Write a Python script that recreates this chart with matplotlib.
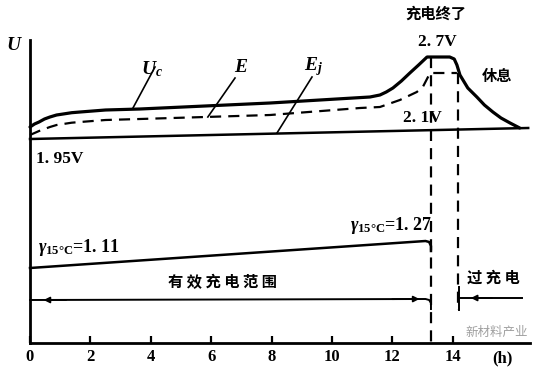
import matplotlib
matplotlib.use("Agg")
import matplotlib.pyplot as plt

plt.rcParams['mathtext.fontset'] = 'custom'
plt.rcParams['mathtext.rm'] = 'Liberation Serif:bold'
plt.rcParams['mathtext.it'] = 'Liberation Serif:italic:bold'

SERIF = 'Liberation Serif'
CJK = ['Noto Sans CJK SC', 'DejaVu Sans']

# time axis in hours, heights in schematic units (not to scale)
uc_t = [0, 0.15, 0.3, 0.48, 0.66, 0.88, 1.1, 1.38, 1.66, 2.5, 3.64, 7.95,
        11.26, 11.59, 11.8, 12.02, 12.3, 12.58, 12.87, 13.15, 13.9, 14.05,
        14.14, 14.24, 14.5, 14.8, 15.05, 15.33, 15.6, 15.9, 16.22]
uc_v = [216, 219, 221, 224, 226, 228, 229, 230.3, 231, 233, 234, 240,
        246, 248, 251, 255, 262, 270, 278, 286, 286, 284,
        278, 268, 255, 246, 238, 231, 225, 220, 215]

e_t = [0, 0.15, 0.3, 0.48, 0.66, 0.88, 1.1, 1.38, 1.66, 2.5, 3.64, 7.95,
       10.93, 11.59, 12.25, 12.81, 13.01, 13.25, 14.14]
e_v = [208, 210, 212, 214, 216, 218, 219, 220.3, 221, 223, 224, 228,
       235, 236, 243, 251, 256, 270, 270]

ej_t = [0, 16.5]
ej_v = [204, 215]

# specific gravity line (1.11 -> 1.27) and the effective range arrow
grav_t = [0, 13.1, 13.22, 13.28, 13.28]
grav_v = [75, 102, 101, 97, 92]
range_t = [0, 13.1, 13.22, 13.28, 13.28]
range_v = [43, 44, 43, 40, 34]

end_t = 13.28      # end of charge
rest_t = 14.17     # start of rest
over_t = [14.2, 16.3]
over_v = [45, 45]

xticks = [0, 2, 4, 6, 8, 10, 12, 14]

fig = plt.figure(figsize=(5.41, 3.76), dpi=100)
ax = fig.add_axes([30 / 541, 33 / 376, 500 / 541, 303 / 376])
ax.set_xlim(0, 16.56)
ax.set_ylim(0, 303)

for s in ['top', 'right']:
    ax.spines[s].set_visible(False)
for s in ['left', 'bottom']:
    ax.spines[s].set_linewidth(2.0)

dash = (0, (5, 3.2))
ax.plot(uc_t, uc_v, color='black', lw=2.3, solid_joinstyle='round',
        solid_capstyle='round', clip_on=False)
ax.plot(e_t, e_v, color='black', lw=1.6, linestyle=dash, clip_on=False)
ax.plot(ej_t, ej_v, color='black', lw=1.8, clip_on=False)
ax.plot([end_t, end_t], [286, 0], color='black', lw=1.6, linestyle=dash)
ax.plot([rest_t, rest_t], [270, 33], color='black', lw=1.6, linestyle=dash)

ax.plot(grav_t, grav_v, color='black', lw=1.8, clip_on=False)
ax.plot(range_t, range_v, color='black', lw=1.4, clip_on=False)
ax.plot(over_t, over_v, color='black', lw=1.4)
ax.plot([over_t[0], over_t[0]], [33, 56], color='black', lw=1.4)

arrow = dict(arrowstyle='-|>', color='black', lw=1.2, mutation_scale=9,
             shrinkA=0, shrinkB=0)
ax.annotate('', xy=(0.45, 43), xytext=(1.2, 43), arrowprops=arrow)
ax.annotate('', xy=(12.9, 44), xytext=(12.0, 43.8), arrowprops=arrow)
ax.annotate('', xy=(14.6, 45), xytext=(15.3, 45), arrowprops=arrow)

# leader lines for the curve labels
ax.plot([4.14, 3.41], [276, 235], color='black', lw=1.2)
ax.plot([6.79, 5.89], [265, 226], color='black', lw=1.2)
ax.plot([9.34, 8.18], [266, 210], color='black', lw=1.2)

ax.set_xticks(xticks)
ax.set_xticklabels([str(v) for v in xticks], fontfamily=SERIF,
                   fontweight='bold', fontsize=12)
ax.set_yticks([])
ax.tick_params(axis='x', direction='in', length=5, width=1.6, pad=4)

ax.text(15.66, -7, '(h)', fontfamily=SERIF, fontweight='bold', fontsize=12,
        ha='center', va='top', clip_on=False)

ax.text(-0.55, 298, 'U', fontfamily=SERIF, fontweight='bold', style='italic',
        fontsize=14, ha='center', va='center', clip_on=False)
ax.text(4.05, 274, r'$U_c$', fontsize=14, ha='center', va='center')
ax.text(7.0, 276, r'$E$', fontsize=14, ha='center', va='center')
ax.text(9.4, 276, r'$E_j$', fontsize=14, ha='center', va='center')

ax.text(0.2, 184, '1. 95V', fontfamily=SERIF, fontweight='bold', fontsize=12.5,
        ha='left', va='center')
ax.text(12.98, 225, '2. 1V', fontfamily=SERIF, fontweight='bold', fontsize=12.5,
        ha='center', va='center')
ax.text(13.48, 301, '2. 7V', fontfamily=SERIF, fontweight='bold', fontsize=12.5,
        ha='center', va='center')
ax.text(13.45, 329, '充电终了', family=CJK, fontweight='bold', fontsize=11,
        ha='center', va='center', clip_on=False)
ax.text(15.46, 267, '休息', family=CJK, fontweight='bold', fontsize=11,
        ha='center', va='center')

ax.text(0.25, 95, r'$\gamma_{\mathrm{15°C}}$=1. 11', fontfamily=SERIF,
        fontweight='bold', fontsize=13, ha='left', va='center')
ax.text(10.6, 118, r'$\gamma_{\mathrm{15°C}}$=1. 27', fontfamily=SERIF,
        fontweight='bold', fontsize=13, ha='left', va='center')
ax.text(6.36, 61, '有 效 充 电 范 围', family=CJK, fontweight='bold',
        fontsize=11, ha='center', va='center')
ax.text(15.36, 65, '过 充 电', family=CJK, fontweight='bold', fontsize=11,
        ha='center', va='center')

# watermark, kept just above the axis so it does not cover the tick labels
ax.text(15.45, 11, '新材料产业', family=CJK, fontsize=9, color='#a0a0a0',
        ha='center', va='center')

fig.savefig('out.png', dpi=100)
